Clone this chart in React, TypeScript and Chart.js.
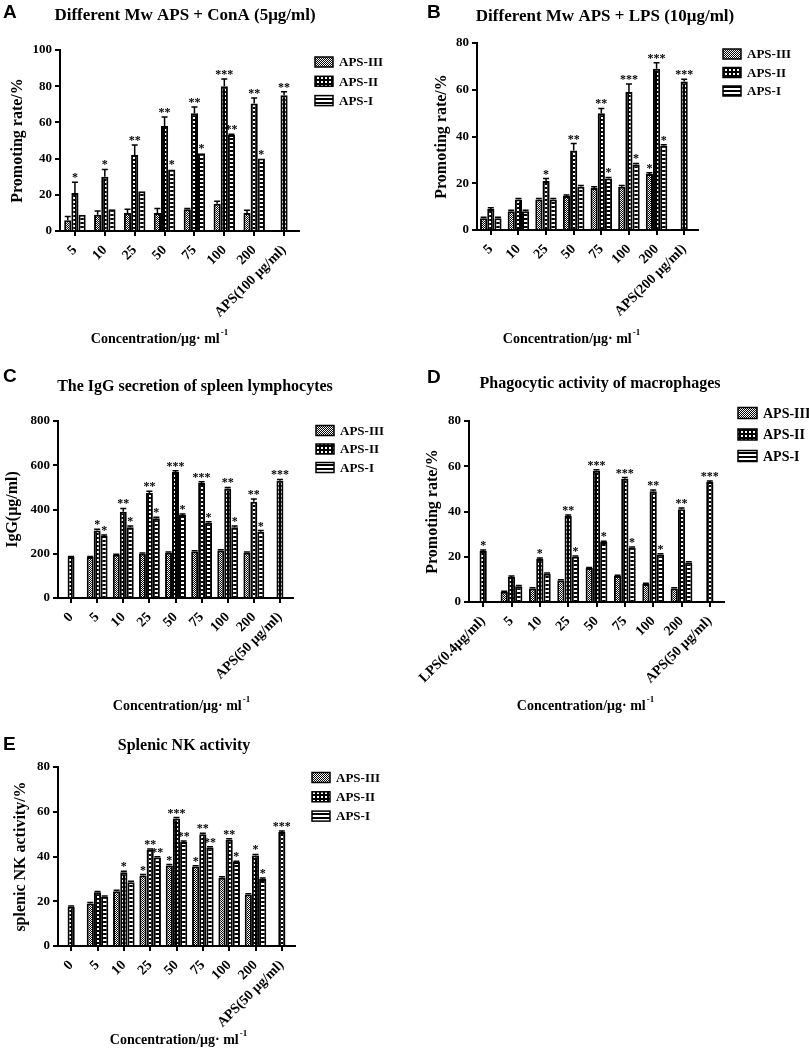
import { useEffect, useRef } from "react";
import { Chart, registerables } from "chart.js";

Chart.register(...registerables);

const SERIES = ["APS-III", "APS-II", "APS-I"];

// A: ConA
const catsA = ["5", "10", "25", "50", "75", "100", "200", "APS(100 μg/ml)"];
const a3 = [6, 9, 10, 10, 12, 15, 10, null];
const a2 = [21, 30, 42, 58, 65, 80, 70.5, 75];
const a1 = [9, 12, 22, 34, 43, 53, 40, null];
const a3Err = [2, 2, 2, 2.5, 0.5, 1.5, 1.5, 0];
const a2Err = [6, 4, 5.5, 5, 3.5, 4, 3, 2];
const a1Err = [0, 0, 0, 0, 0, 0.5, 0, 0];
const a3Sig = ["", "", "", "", "", "", "", ""];
const a2Sig = ["*", "*", "**", "**", "**", "***", "**", "**"];
const a1Sig = ["", "", "", "*", "*", "**", "*", ""];

// B: LPS
const catsB = ["5", "10", "25", "50", "75", "100", "200", "APS(200 μg/ml)"];
const b3 = [5, 8, 13, 14.5, 18, 18.5, 24, null];
const b2 = [9, 13, 21, 34, 50, 59, 69, 63.5];
const b1 = [5, 8, 13, 18.5, 22, 28, 36, null];
const b3Err = [0.5, 0.5, 0.5, 0.5, 0.5, 0.5, 0.5, 0];
const b2Err = [0.5, 0.5, 1, 3, 2, 3.5, 2.5, 1];
const b1Err = [0.5, 0.5, 0.5, 0.5, 0.5, 0.5, 0.5, 0];
const b3Sig = ["", "", "", "", "", "", "*", ""];
const b2Sig = ["", "", "*", "**", "**", "***", "***", "***"];
const b1Sig = ["", "", "", "", "*", "*", "*", ""];

// C: IgG
const catsC = ["0", "5", "10", "25", "50", "75", "100", "200", "APS(50 μg/ml)"];
const c3 = [null, 185, 195, 200, 205, 210, 215, 205, null];
const c2 = [185, 305, 390, 475, 570, 520, 495, 435, 530];
const c1 = [null, 280, 320, 360, 375, 340, 320, 300, null];
const c3Err = [0, 3, 3, 3, 3, 3, 3, 3, 0];
const c2Err = [3, 6, 15, 8, 5, 5, 5, 12, 6];
const c1Err = [0, 5, 5, 5, 5, 5, 5, 5, 0];
const c3Sig = ["", "", "", "", "", "", "", "", ""];
const c2Sig = ["", "*", "**", "**", "***", "***", "**", "**", "***"];
const c1Sig = ["", "*", "*", "*", "*", "*", "*", "*", ""];

// D: phagocytic activity
const catsD = ["LPS(0.4μg/ml)", "5", "10", "25", "50", "75", "100", "200", "APS(50 μg/ml)"];
const d3 = [null, 4.5, 6, 9.5, 15, 11.5, 8, 6, null];
const d2 = [22.5, 11, 19, 38, 58, 54.5, 49, 41, 53];
const d1 = [null, 7, 12.5, 20, 26.5, 24, 21, 17.5, null];
const d3Err = [0, 0.3, 0.3, 0.3, 0.3, 0.3, 0.3, 0.3, 0];
const d2Err = [0.5, 0.5, 0.5, 0.5, 0.5, 0.5, 0.5, 0.5, 0.5];
const d1Err = [0, 0.3, 0.3, 0.3, 0.3, 0.3, 0.3, 0.3, 0];
const d3Sig = ["", "", "", "", "", "", "", "", ""];
const d2Sig = ["*", "", "*", "**", "***", "***", "**", "**", "***"];
const d1Sig = ["", "", "", "*", "*", "*", "*", "", ""];

// E: NK activity
const catsE = ["0", "5", "10", "25", "50", "75", "100", "200", "APS(50 μg/ml)"];
const e3 = [null, 19, 24.5, 31.5, 36, 35.5, 30.5, 23, null];
const e2 = [17.5, 24, 33, 43, 57, 50, 47.5, 40.5, 51];
const e1 = [null, 22, 28.5, 39.5, 46.5, 44, 37.5, 30, null];
const e3Err = [0, 0.4, 0.4, 0.4, 0.4, 0.4, 0.4, 0.4, 0];
const e2Err = [0.4, 0.4, 0.4, 0.4, 0.4, 0.4, 0.4, 0.4, 0.4];
const e1Err = [0, 0.4, 0.4, 0.4, 0.4, 0.4, 0.4, 0.4, 0];
const e3Sig = ["", "", "", "*", "*", "*", "", "", ""];
const e2Sig = ["", "", "*", "**", "***", "**", "**", "*", "***"];
const e1Sig = ["", "", "", "**", "**", "**", "*", "*", ""];

const X_TITLE = "Concentration/μg· ml";
const X_TITLE_SUP = "-1";

type Val = number | null;

type PanelSpec = {
  letter: string;
  title: string;
  yTitle: string;
  cats: string[];
  values: Val[][];
  errors: number[][];
  stars: string[][];
  yMax: number;
  yStep: number;
};

type Layout = {
  box: [number, number, number, number]; // left, top, width, height
  area: [number, number, number, number]; // left, right, top, bottom
  letter: [number, number];
  title: [number, number, number];
  yTitleX: number;
  legend: [number, number, number, number]; // x, first y, gap, font
  xTitle: [number, number];
  catPct: number;
};

const PANELS: PanelSpec[] = [
  {
    letter: "A",
    title: "Different Mw APS + ConA (5μg/ml)",
    yTitle: "Promoting rate/%",
    cats: catsA,
    values: [a3, a2, a1],
    errors: [a3Err, a2Err, a1Err],
    stars: [a3Sig, a2Sig, a1Sig],
    yMax: 100,
    yStep: 20,
  },
  {
    letter: "B",
    title: "Different Mw APS + LPS (10μg/ml)",
    yTitle: "Promoting rate/%",
    cats: catsB,
    values: [b3, b2, b1],
    errors: [b3Err, b2Err, b1Err],
    stars: [b3Sig, b2Sig, b1Sig],
    yMax: 80,
    yStep: 20,
  },
  {
    letter: "C",
    title: "The IgG secretion of spleen lymphocytes",
    yTitle: "IgG(μg/ml)",
    cats: catsC,
    values: [c3, c2, c1],
    errors: [c3Err, c2Err, c1Err],
    stars: [c3Sig, c2Sig, c1Sig],
    yMax: 800,
    yStep: 200,
  },
  {
    letter: "D",
    title: "Phagocytic activity of macrophages",
    yTitle: "Promoting rate/%",
    cats: catsD,
    values: [d3, d2, d1],
    errors: [d3Err, d2Err, d1Err],
    stars: [d3Sig, d2Sig, d1Sig],
    yMax: 80,
    yStep: 20,
  },
  {
    letter: "E",
    title: "Splenic NK activity",
    yTitle: "splenic NK activity/%",
    cats: catsE,
    values: [e3, e2, e1],
    errors: [e3Err, e2Err, e1Err],
    stars: [e3Sig, e2Sig, e1Sig],
    yMax: 80,
    yStep: 20,
  },
];

const LAYOUTS: Layout[] = [
  { box: [0, 0, 404, 350], area: [60, 299, 50, 231], letter: [3, 18], title: [185, 16, 17], yTitleX: 18, legend: [315, 62, 19.3, 13], xTitle: [159, 339], catPct: 0.72 },
  { box: [404, 0, 405, 350], area: [477, 698, 43, 230], letter: [427, 18], title: [605, 17, 17], yTitleX: 442, legend: [723, 54, 18.5, 13], xTitle: [571, 339], catPct: 0.78 },
  { box: [0, 350, 404, 365], area: [58, 293, 421, 598], letter: [3, 382], title: [195, 387, 16], yTitleX: 13, legend: [316, 430.5, 18.5, 13], xTitle: [181, 706], catPct: 0.8 },
  { box: [404, 350, 405, 365], area: [469, 724, 421, 602], letter: [427, 383], title: [600, 384, 16], yTitleX: 433, legend: [738, 413, 21.5, 14], xTitle: [585, 706], catPct: 0.77 },
  { box: [0, 715, 404, 340], area: [58, 295, 767, 946], letter: [3, 750], title: [184, 746, 16], yTitleX: 21, legend: [312, 777.5, 19.3, 13], xTitle: [178, 1040], catPct: 0.82 },
];

const SERIF = '"Liberation Serif", "Times New Roman", serif';
const SANS = '"Liberation Sans", Arial, sans-serif';

function makePattern(kind: number): CanvasPattern | string {
  const c = document.createElement("canvas");
  const g = c.getContext("2d");
  if (!g) return "#000";
  if (kind === 0) {
    c.width = 2;
    c.height = 2;
    g.fillStyle = "#000";
    g.fillRect(0, 0, 2, 2);
    g.fillStyle = "#fff";
    g.fillRect(0, 0, 1, 1);
    g.fillRect(1, 1, 1, 1);
  } else if (kind === 1) {
    c.width = 4;
    c.height = 4;
    g.fillStyle = "#000";
    g.fillRect(0, 0, 4, 4);
    g.fillStyle = "#fff";
    g.fillRect(1, 1, 2, 2);
  } else {
    c.width = 1;
    c.height = 4;
    g.fillStyle = "#000";
    g.fillRect(0, 0, 1, 4);
    g.fillStyle = "#fff";
    g.fillRect(0, 0, 1, 2);
  }
  return g.createPattern(c, "repeat") ?? "#000";
}

function decor(p: PanelSpec, lay: Layout, fills: (CanvasPattern | string)[]) {
  const ox = lay.box[0];
  const oy = lay.box[1];
  return {
    id: "decor",
    afterDatasetsDraw(chart: Chart) {
      const ctx = chart.ctx;
      const y = chart.scales.y;
      ctx.save();
      ctx.strokeStyle = "#000";
      ctx.fillStyle = "#000";
      ctx.lineWidth = 1.5;
      ctx.font = `bold 12px ${SERIF}`;
      ctx.textAlign = "center";
      ctx.textBaseline = "alphabetic";
      p.values.forEach((vals, di) => {
        const meta = chart.getDatasetMeta(di);
        meta.data.forEach((bar: any, i: number) => {
          const v = vals[i];
          if (v == null) return;
          const e = p.errors[di][i] || 0;
          const top = y.getPixelForValue(v + e);
          if (e > 0) {
            ctx.beginPath();
            ctx.moveTo(bar.x, bar.y);
            ctx.lineTo(bar.x, top);
            ctx.moveTo(bar.x - 3, top);
            ctx.lineTo(bar.x + 3, top);
            ctx.stroke();
          }
          const s = p.stars[di][i];
          if (s) ctx.fillText(s, bar.x, top - 1);
        });
      });
      ctx.restore();
    },
    afterDraw(chart: Chart) {
      const ctx = chart.ctx;
      ctx.save();
      ctx.fillStyle = "#000";
      ctx.textBaseline = "alphabetic";
      ctx.textAlign = "left";
      ctx.font = `bold 19px ${SANS}`;
      ctx.fillText(p.letter, lay.letter[0] - ox, lay.letter[1] - oy);

      ctx.textAlign = "center";
      ctx.textBaseline = "middle";
      ctx.font = `bold ${lay.title[2]}px ${SERIF}`;
      ctx.fillText(p.title, lay.title[0] - ox, lay.title[1] - oy);

      const [lx, ly, gap, fs] = lay.legend;
      const bw = fs === 14 ? 19 : 18;
      const bh = fs === 14 ? 11 : 10;
      ctx.font = `bold ${fs}px ${SERIF}`;
      ctx.textAlign = "left";
      SERIES.forEach((name, i) => {
        const cy = ly + i * gap - oy;
        ctx.fillStyle = fills[i];
        ctx.fillRect(lx - ox, cy - bh / 2, bw, bh);
        ctx.strokeStyle = "#000";
        ctx.lineWidth = 1.5;
        ctx.strokeRect(lx - ox, cy - bh / 2, bw, bh);
        ctx.fillStyle = "#000";
        ctx.fillText(name, lx - ox + bw + 6, cy + 1);
      });

      ctx.font = `bold 14px ${SERIF}`;
      const w1 = ctx.measureText(X_TITLE).width;
      ctx.font = `bold 9px ${SERIF}`;
      const w2 = ctx.measureText(X_TITLE_SUP).width;
      const sx = lay.xTitle[0] - ox - (w1 + w2) / 2;
      const sy = lay.xTitle[1] - oy;
      ctx.font = `bold 14px ${SERIF}`;
      ctx.fillText(X_TITLE, sx, sy);
      ctx.font = `bold 9px ${SERIF}`;
      ctx.fillText(X_TITLE_SUP, sx + w1 + 1, sy - 6);
      ctx.restore();
    },
  };
}

function Panel({ spec, lay }: { spec: PanelSpec; lay: Layout }) {
  const canvasRef = useRef<HTMLCanvasElement | null>(null);
  const [bx, by, bw, bh] = lay.box;

  useEffect(() => {
    if (!canvasRef.current) return;
    const fills = [makePattern(0), makePattern(1), makePattern(2)];
    const [al, ar, at, ab] = lay.area;
    const yFont = { family: SERIF, size: 16, weight: "bold" as const };
    const yTickFont = { family: SERIF, size: 13, weight: "bold" as const };
    const xTickFont = { family: SERIF, size: 14, weight: "bold" as const };

    const chart = new Chart(canvasRef.current, {
      type: "bar",
      data: {
        labels: spec.cats,
        datasets: SERIES.map((label, i) => ({
          label,
          data: spec.values[i],
          backgroundColor: fills[i],
          borderColor: "#000",
          borderWidth: 2,
          barPercentage: 1,
          categoryPercentage: lay.catPct,
        })),
      },
      options: {
        animation: false,
        responsive: false,
        events: [],
        layout: {
          padding: { left: 0, top: at - by, right: bx + bw - ar, bottom: 0 },
        },
        scales: {
          x: {
            grid: {
              display: true,
              drawOnChartArea: false,
              offset: false,
              color: "#000",
              lineWidth: 2,
              tickLength: 5,
            },
            border: { display: true, color: "#000", width: 2 },
            ticks: {
              color: "#000",
              font: xTickFont,
              minRotation: 45,
              maxRotation: 45,
              autoSkip: false,
              padding: 6,
            },
            afterFit: (s: any) => {
              s.height = by + bh - ab;
            },
          },
          y: {
            min: 0,
            max: spec.yMax,
            grid: {
              display: true,
              drawOnChartArea: false,
              color: "#000",
              lineWidth: 2,
              tickLength: 5,
            },
            border: { display: true, color: "#000", width: 2 },
            ticks: { color: "#000", font: yTickFont, stepSize: spec.yStep, padding: 3 },
            title: {
              display: true,
              text: spec.yTitle,
              color: "#000",
              font: yFont,
              padding: { top: lay.yTitleX - bx - 9.6, bottom: 0 },
            },
            afterFit: (s: any) => {
              s.width = al - bx;
            },
          },
        },
        plugins: {
          legend: { display: false },
          tooltip: { enabled: false },
          title: { display: false },
        },
      },
      plugins: [decor(spec, lay, fills)],
    });

    return () => {
      chart.destroy();
    };
  }, [spec, lay]);

  return (
    <canvas
      ref={canvasRef}
      width={bw}
      height={bh}
      style={{ position: "absolute", left: bx, top: by, width: bw, height: bh }}
    />
  );
}

export default function App() {
  return (
    <div
      style={{
        position: "absolute",
        left: 0,
        top: 0,
        width: 809,
        height: 1055,
        background: "#fff",
        overflow: "hidden",
      }}
    >
      {PANELS.map((p, i) => (
        <Panel key={p.letter} spec={p} lay={LAYOUTS[i]} />
      ))}
    </div>
  );
}
